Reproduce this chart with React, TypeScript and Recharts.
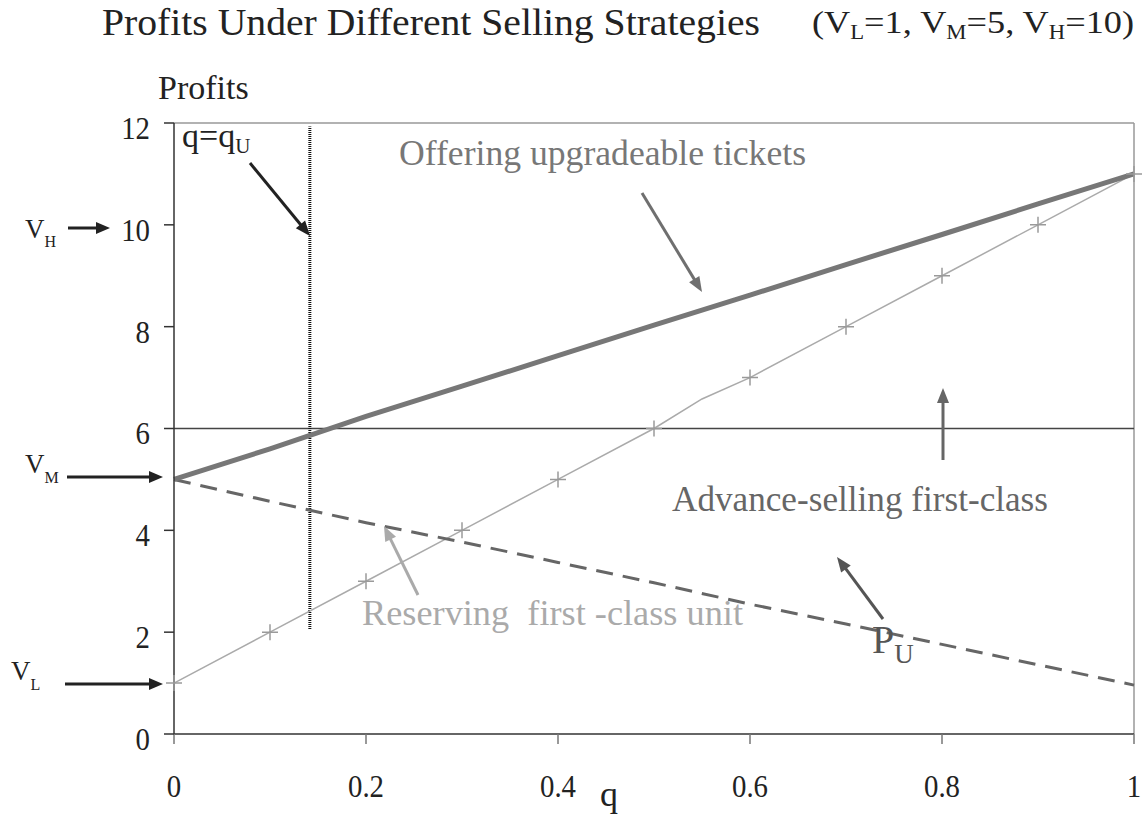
import React from 'react'
import { LineChart, Line, XAxis, YAxis, ReferenceLine } from 'recharts'

const SERIF = '"Liberation Serif", "Times New Roman", serif'

// q values on the horizontal axis
const qValues = [0, 0.1, 0.2, 0.3, 0.4, 0.5, 0.6, 0.7, 0.8, 0.9, 1]
// offering upgradeable tickets (thick line)
const upgradeProfit = [5, 5.6, 6.24, 6.83, 7.43, 8.03, 8.62, 9.22, 9.81, 10.41, 11]
// P_U (dashed)
const puProfit = [5, 4.57, 4.15, 3.77, 3.37, 2.97, 2.55, 2.16, 1.76, 1.36, 0.96]
// reserving first-class unit (thin line with + marks)
const reserveQ = [0, 0.1, 0.2, 0.3, 0.4, 0.5, 0.55, 0.6, 0.7, 0.8, 0.9, 1]
const reserveProfit = [1, 2, 3, 4, 5, 6, 6.58, 7, 8, 9, 10, 11]
// advance-selling first-class (flat)
const advanceProfit = 6
// q = q_U marker line
const qU = 0.1415
const qULine = [2.06, 11.93]

const xTicks = [0, 0.2, 0.4, 0.6, 0.8, 1]
const yTicks = [0, 2, 4, 6, 8, 10, 12]

const upgradeData = qValues.map((q, i) => ({ q, v: upgradeProfit[i] }))
const puData = qValues.map((q, i) => ({ q, v: puProfit[i] }))
const reserveData = reserveQ.map((q, i) => ({ q, v: reserveProfit[i] }))

const renderYTick = (props: any) => {
  const { x, y, payload, index } = props
  return (
    <text key={index} x={x} y={y} dy={16} textAnchor="end" fontSize={32} fill="#222" fontFamily={SERIF}
      transform={`translate(${x},0) scale(0.9,1) translate(${-x},0)`}>
      {payload.value}
    </text>
  )
}

const renderXTick = (props: any) => {
  const { x, y, payload, index } = props
  return (
    <text key={index} x={x} y={y} dy={51} textAnchor="middle" fontSize={31} fill="#222" fontFamily={SERIF}
      transform={`translate(${x},0) scale(0.93,1) translate(${-x},0)`}>
      {payload.value}
    </text>
  )
}

const PlusDot = (props: any) => {
  const { cx, cy, payload, index } = props
  const onTenth = Math.abs(payload.q * 10 - Math.round(payload.q * 10)) < 1e-6
  if (!onTenth || cx == null) return <g key={index} />
  return (
    <path key={index} d={`M${cx - 8},${cy}H${cx + 8}M${cx},${cy - 8}V${cy + 8}`} stroke="#9a9a9a" strokeWidth={1.5} fill="none" />
  )
}

function Arrow({ x1, y1, x2, y2, color, w = 3, head = 15, half = 6 }: any) {
  const dx = x2 - x1
  const dy = y2 - y1
  const len = Math.hypot(dx, dy)
  const ux = dx / len
  const uy = dy / len
  const bx = x2 - ux * head
  const by = y2 - uy * head
  const px = -uy * half
  const py = ux * half
  return (
    <g>
      <line x1={x1} y1={y1} x2={bx + ux * 2} y2={by + uy * 2} stroke={color} strokeWidth={w} />
      <polygon points={`${x2},${y2} ${bx + px},${by + py} ${bx - px},${by - py}`} fill={color} />
    </g>
  )
}

function Annotations() {
  return (
    <svg width={1146} height={816} style={{ position: 'absolute', left: 0, top: 0, pointerEvents: 'none' }}>
      <g fontFamily={SERIF}>
        <text x={102} y={35} fontSize={38} fill="#222" textLength={658} lengthAdjust="spacingAndGlyphs">
          Profits Under Different Selling Strategies
        </text>
        <text x={812} y={33} fontSize={32} fill="#222" textLength={322} lengthAdjust="spacingAndGlyphs">
          (V<tspan fontSize={20} dy={6}>L</tspan>
          <tspan dy={-6}>=1, V</tspan>
          <tspan fontSize={20} dy={6}>M</tspan>
          <tspan dy={-6}>=5, V</tspan>
          <tspan fontSize={20} dy={6}>H</tspan>
          <tspan dy={-6}>=10)</tspan>
        </text>
        <text x={158} y={99} fontSize={34} fill="#222">Profits</text>

        <text x={182} y={147} fontSize={34} fill="#222">
          q=q<tspan fontSize={21} dy={6}>U</tspan>
        </text>
        <Arrow x1={250} y1={163} x2={310} y2={236} color="#222" w={3} />

        <text x={25} y={238} fontSize={27} fill="#222">
          V<tspan fontSize={16} dy={9}>H</tspan>
        </text>
        <Arrow x1={68} y1={228} x2={110} y2={228} color="#222" w={3} head={14} half={6} />

        <text x={25} y={473} fontSize={27} fill="#222">
          V<tspan fontSize={16} dy={10}>M</tspan>
        </text>
        <Arrow x1={67} y1={477} x2={163} y2={477} color="#222" w={3} head={14} half={6} />

        <text x={11} y={680} fontSize={27} fill="#222">
          V<tspan fontSize={16} dy={10}>L</tspan>
        </text>
        <Arrow x1={65} y1={684} x2={163} y2={684} color="#222" w={3} head={14} half={6} />

        <text x={399} y={165} fontSize={36} fill="#777" textLength={407} lengthAdjust="spacingAndGlyphs">
          Offering upgradeable tickets
        </text>
        <Arrow x1={642} y1={193} x2={702} y2={292} color="#6f6f6f" w={3} />

        <text x={672} y={511} fontSize={36} fill="#666" textLength={376} lengthAdjust="spacingAndGlyphs">
          Advance-selling first-class
        </text>
        <Arrow x1={943} y1={460} x2={943} y2={388} color="#666" w={3} />

        <text x={362} y={625} fontSize={36} fill="#aaa" textLength={381} lengthAdjust="spacingAndGlyphs" xmlSpace="preserve">
          Reserving  first -class unit
        </text>
        <Arrow x1={418} y1={595} x2={384} y2={526} color="#aaa" w={3} />

        <text x={872} y={653} fontSize={40} fill="#555">
          P<tspan fontSize={27} dy={10}>U</tspan>
        </text>
        <Arrow x1={883} y1={619} x2={837} y2={557} color="#555" w={3} />

        <text x={600} y={806} fontSize={36} fill="#222">q</text>
      </g>
    </svg>
  )
}

export default function App() {
  return (
    <div style={{ position: 'absolute', left: 0, top: 0, width: 1146, height: 816, background: '#fff' }}>
      <LineChart width={1146} height={816} margin={{ top: 123, right: 12, bottom: 22, left: 94 }}>
        <XAxis
          dataKey="q"
          type="number"
          domain={[0, 1]}
          ticks={xTicks}
          height={60}
          tickSize={10}
          tick={renderXTick}
          axisLine={{ stroke: '#333', strokeWidth: 1.5 }}
          tickLine={{ stroke: '#777', strokeWidth: 1.5 }}
        />
        <YAxis
          type="number"
          domain={[0, 12]}
          ticks={yTicks}
          width={80}
          tickSize={10}
          tickMargin={14}
          tick={renderYTick}
          axisLine={{ stroke: '#333', strokeWidth: 1.5 }}
          tickLine={{ stroke: '#333', strokeWidth: 1.5 }}
        />
        <ReferenceLine y={12} stroke="#999" strokeWidth={1.5} />
        <ReferenceLine x={1} stroke="#999" strokeWidth={1.5} />
        <ReferenceLine y={advanceProfit} stroke="#444" strokeWidth={1.5} />
        <ReferenceLine
          segment={[{ x: qU, y: qULine[0] }, { x: qU, y: qULine[1] }]}
          stroke="#111"
          strokeWidth={3}
          strokeDasharray="1 1"
        />
        <Line
          data={reserveData}
          dataKey="v"
          type="linear"
          stroke="#aaa"
          strokeWidth={1.5}
          dot={PlusDot}
          activeDot={false}
          isAnimationActive={false}
        />
        <Line
          data={puData}
          dataKey="v"
          type="linear"
          stroke="#666"
          strokeWidth={3}
          strokeDasharray="17 10"
          dot={false}
          activeDot={false}
          isAnimationActive={false}
        />
        <Line
          data={upgradeData}
          dataKey="v"
          type="linear"
          stroke="#777"
          strokeWidth={5}
          dot={false}
          activeDot={false}
          isAnimationActive={false}
        />
      </LineChart>
      <Annotations />
    </div>
  )
}
